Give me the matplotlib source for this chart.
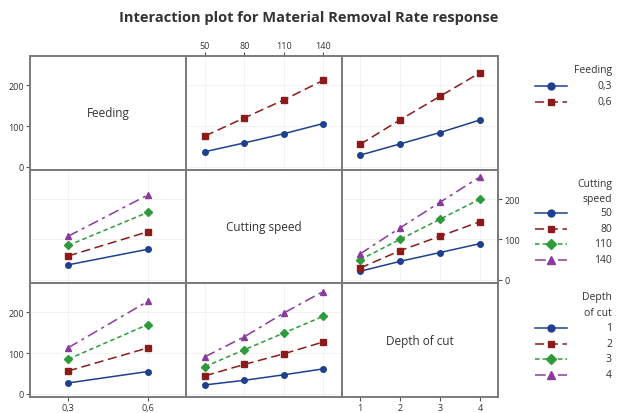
import matplotlib
matplotlib.use("Agg")
import matplotlib.pyplot as plt
from matplotlib.lines import Line2D

plt.rcParams['font.family'] = ['Open Sans', 'DejaVu Sans']

feeding = [0.3, 0.6]
feeding_labels = ["0,3", "0,6"]
speed = [50, 80, 110, 140]
speed_labels = ["50", "80", "110", "140"]
depth = [1, 2, 3, 4]
depth_labels = ["1", "2", "3", "4"]

# Row 1: lines by Feeding
mrr_speed_by_feed = {0.3: [37, 58.5, 81, 106], 0.6: [75.6, 120, 164, 212]}
mrr_depth_by_feed = {0.3: [28.5, 56, 84, 115], 0.6: [55, 115, 173, 231]}
# Row 2: lines by Cutting speed
mrr_feed_by_speed = {50: [37, 75.6], 80: [59, 119], 110: [85, 167], 140: [108, 210]}
mrr_depth_by_speed = {50: [21, 45.6, 67.5, 89.5], 80: [29, 72, 108, 144],
                      110: [49.6, 100, 150, 200], 140: [64, 128.5, 192, 255]}
# Row 3: lines by Depth of cut
mrr_feed_by_depth = {1: [26.5, 54.6], 2: [56, 112.5], 3: [85, 170], 4: [113, 227]}
mrr_speed_by_depth = {1: [21.7, 33, 46.5, 61], 2: [44, 72, 98, 127],
                      3: [66.7, 108, 149, 190], 4: [91, 140, 198, 251]}

colors = ["#1f3f8f", "#8b1a1a", "#2e9a3c", "#8a3a9c"]
markers = ["o", "s", "D", "^"]
msizes = [4, 4, 3.8, 4.8]
dashes = [None, (6, 3), (3, 2), (7, 3, 2, 3)]

W, H = 617, 414
fig = plt.figure(figsize=(W / 100, H / 100), dpi=100)

xs_px = [30, 186, 342, 498]
ys_px = [57, 171, 284, 398]
names = ["Feeding", "Cutting speed", "Depth of cut"]
xvals = [feeding, speed, depth]
xlabs = [feeding_labels, speed_labels, depth_labels]
xlims = [(0.156, 0.744), (35.5, 154.5), (0.55, 4.45)]
ylim = (-8, 272)

data = {
    (0, 1): mrr_speed_by_feed, (0, 2): mrr_depth_by_feed,
    (1, 0): mrr_feed_by_speed, (1, 2): mrr_depth_by_speed,
    (2, 0): mrr_feed_by_depth, (2, 1): mrr_speed_by_depth,
}

axes = {}
for r in range(3):
    for c in range(3):
        l = xs_px[c] / W
        w = (xs_px[c + 1] - xs_px[c]) / W
        b = 1 - ys_px[r + 1] / H
        h = (ys_px[r + 1] - ys_px[r]) / H
        ax = fig.add_axes([l, b, w, h])
        axes[(r, c)] = ax
        ax.set_xlim(*xlims[c])
        ax.set_ylim(*ylim)
        for s in ax.spines.values():
            s.set_color("#7a7a7a")
            s.set_linewidth(1.4)
        ax.tick_params(axis='both', labelsize=6.5, length=3, width=0.8,
                       color="#555555", labelcolor="#333333", pad=1.5,
                       bottom=False, top=False, left=False, right=False,
                       labelbottom=False, labeltop=False, labelleft=False, labelright=False)
        ax.set_xticks(xvals[c])
        ax.set_xticklabels(xlabs[c])
        ax.set_yticks([0, 100, 200])
        if r == c:
            ax.text(0.5, 0.5, names[r], transform=ax.transAxes, ha='center',
                    va='center', fontsize=8.5, color="#333333")
        else:
            ax.grid(True, color="#f0f0f0", linewidth=0.6)
            ax.set_axisbelow(True)
            series = data[(r, c)]
            for i, (k, vals) in enumerate(series.items()):
                ln, = ax.plot(xvals[c], vals, color=colors[i], marker=markers[i],
                              markersize=msizes[i], linewidth=1.1,
                              markeredgecolor=colors[i])
                if dashes[i] is not None:
                    ln.set_dashes(dashes[i])

# tick placement (Minitab alternating style)
axes[(0, 0)].tick_params(left=True, labelleft=True)
axes[(1, 2)].tick_params(right=True, labelright=True)
axes[(2, 0)].tick_params(left=True, labelleft=True)
axes[(0, 1)].tick_params(top=True, labeltop=True)
axes[(2, 0)].tick_params(bottom=True, labelbottom=True)
axes[(2, 2)].tick_params(bottom=True, labelbottom=True)

fig.text(0.5, 1 - 18 / H, "Interaction plot for Material Removal Rate response",
         ha='center', va='center', fontsize=10.5, fontweight='bold', color="#333333")

# Legends
def legend_block(title_lines, title_y, labels, first_y, step):
    y = title_y
    for t in title_lines:
        fig.text(612 / W, 1 - y / H, t, ha='right', va='center', fontsize=7.5, color="#333333")
        y += 15
    for i, lab in enumerate(labels):
        yy = 1 - (first_y + i * step) / H
        ln = Line2D([535 / W, 567 / W], [yy, yy], transform=fig.transFigure,
                    color=colors[i], linewidth=1.1)
        if dashes[i] is not None:
            ln.set_dashes(dashes[i])
        fig.add_artist(ln)
        mk = Line2D([551 / W], [yy], transform=fig.transFigure, color=colors[i],
                    marker=markers[i], markersize=msizes[i] + 1, linestyle='none')
        fig.add_artist(mk)
        fig.text(612 / W, yy, lab, ha='right', va='center', fontsize=7.5, color="#333333")

legend_block(["Feeding"], 71, feeding_labels, 87, 16)
legend_block(["Cutting", "speed"], 185, speed_labels, 214, 15.5)
legend_block(["Depth", "of cut"], 298, depth_labels, 329, 15.5)

fig.savefig("out.png", dpi=100)
